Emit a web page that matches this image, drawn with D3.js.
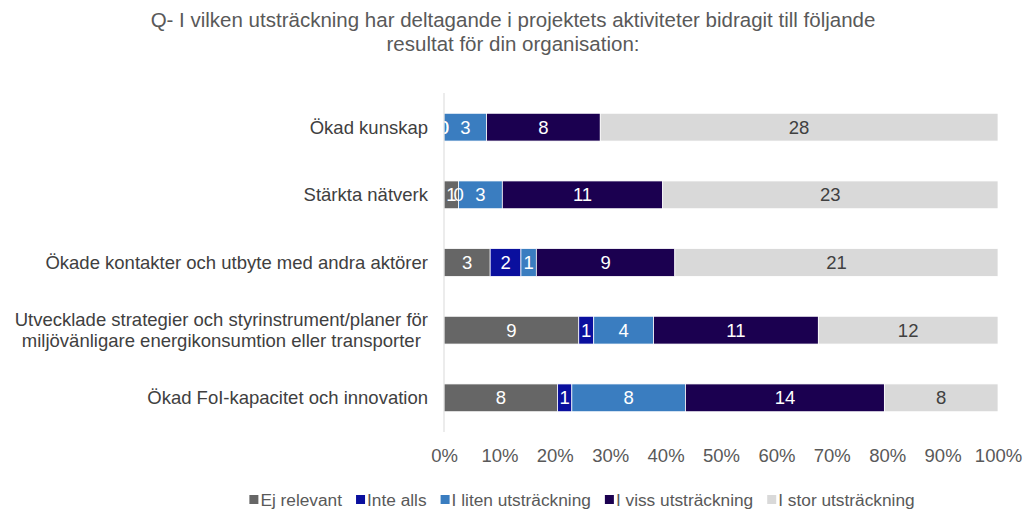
<!DOCTYPE html>
<html>
<head>
<meta charset="utf-8">
<script src="https://cdn.jsdelivr.net/npm/d3@7"></script>
<style>
  body { margin: 0; background: #fff; }
  svg { font-family: "Liberation Sans", Arial, sans-serif; }
</style>
</head>
<body>
<svg id="chart"></svg>
<script>
// data
const categories = [
    ["Ökad kunskap"],
    ["Stärkta nätverk"],
    ["Ökade kontakter och utbyte med andra aktörer"],
    ["Utvecklade strategier och styrinstrument/planer för", "miljövänligare energikonsumtion eller transporter"],
    ["Ökad FoI-kapacitet och innovation"]
];
const seriesNames = ["Ej relevant", "Inte alls", "I liten utsträckning", "I viss utsträckning", "I stor utsträckning"];
const seriesColors = ["#666666", "#0a0f9e", "#3a7dc0", "#1b0050", "#d9d9d9"];
const labelColors = ["#fff", "#fff", "#fff", "#fff", "#404040"];
const ejRelevant = [0, 1, 3, 9, 8];
const inteAlls = [0, 0, 2, 1, 1];
const litenUtstr = [3, 3, 1, 4, 8];
const vissUtstr = [8, 11, 9, 11, 14];
const storUtstr = [28, 23, 21, 12, 8];
const tickValues = [0, 0.1, 0.2, 0.3, 0.4, 0.5, 0.6, 0.7, 0.8, 0.9, 1];

const width = 1024, height = 511;
const margin = {top: 93, right: 26, bottom: 79, left: 444};
const innerW = width - margin.left - margin.right;
const innerH = height - margin.top - margin.bottom;
const fs = 18.5;

const svg = d3.select("#chart").attr("width", width).attr("height", height);

// title
svg.append("text")
    .attr("x", 513).attr("y", 27)
    .attr("text-anchor", "middle")
    .attr("fill", "#595959")
    .attr("font-size", 20.5)
    .selectAll("tspan")
    .data(["Q- I vilken utsträckning har deltagande i projektets aktiviteter bidragit till följande", "resultat för din organisation:"])
    .join("tspan")
    .attr("x", 513)
    .attr("dy", (d, i) => i === 0 ? 0 : 24)
    .text(d => d);

const rows = categories.map((c, i) => {
    const vals = [ejRelevant[i], inteAlls[i], litenUtstr[i], vissUtstr[i], storUtstr[i]];
    const total = d3.sum(vals);
    let acc = 0;
    const segs = vals.map((v, k) => {
        const s = {row: i, k: k, value: v, x0: acc / total, x1: (acc + v) / total};
        acc += v;
        return s;
    });
    return {idx: i, label: c, segs: segs};
});

const xscale = d3.scaleLinear().domain([0, 1]).range([0, innerW]);
const yscale = d3.scaleBand().domain(d3.range(categories.length)).range([0, innerH]).paddingInner(0.59).paddingOuter(0.3);

const chart = svg.append("g").attr("transform", `translate(${margin.left}, ${margin.top})`);

svg.append("defs").append("clipPath").attr("id", "plotclip")
    .append("rect").attr("x", 0).attr("y", -10).attr("width", innerW + 10).attr("height", innerH + 20);

const bars = chart.append("g");
bars.selectAll("g")
    .data(rows)
    .join("g")
    .selectAll("rect")
    .data(d => d.segs.filter(s => s.value > 0))
    .join("rect")
    .attr("x", d => xscale(d.x0))
    .attr("y", d => yscale(d.row))
    .attr("width", d => xscale(d.x1) - xscale(d.x0))
    .attr("height", yscale.bandwidth())
    .attr("fill", d => seriesColors[d.k])
    .attr("stroke", "#fff")
    .attr("stroke-width", 0.75);

// value labels (zero-width segments too, like the original)
chart.append("g")
    .attr("clip-path", "url(#plotclip)")
    .selectAll("text")
    .data(rows.flatMap(r => r.segs))
    .join("text")
    .attr("x", d => xscale((d.x0 + d.x1) / 2))
    .attr("y", d => yscale(d.row) + yscale.bandwidth() / 2)
    .attr("dy", "0.36em")
    .attr("text-anchor", "middle")
    .attr("font-size", fs)
    .attr("fill", d => labelColors[d.k])
    .text(d => d.value);

// y axis line
chart.append("line")
    .attr("x1", 0).attr("x2", 0)
    .attr("y1", 0).attr("y2", innerH)
    .attr("stroke", "#d9d9d9")
    .attr("stroke-width", 1);

// category labels
const catG = chart.append("g");
rows.forEach(r => {
    const t = catG.append("text")
        .attr("font-size", fs)
        .attr("fill", "#404040")
        .attr("text-anchor", "middle");
    const n = r.label.length;
    t.selectAll("tspan").data(r.label).join("tspan")
        .text(d => d);
    const w = d3.max(t.selectAll("tspan").nodes(), nd => nd.getComputedTextLength());
    const cx = -16 - w / 2;
    const cy = yscale(r.idx) + yscale.bandwidth() / 2;
    t.selectAll("tspan")
        .attr("x", cx)
        .attr("y", (d, i) => cy + (i - (n - 1) / 2) * 21)
        .attr("dy", "0.36em");
});

// x axis
const xaxis = d3.axisBottom(xscale).tickValues(tickValues).tickFormat(d3.format(".0%")).tickSize(0).tickPadding(0);
const xg = chart.append("g")
    .attr("transform", `translate(0, ${innerH + 17})`)
    .call(xaxis);
xg.select(".domain").remove();
xg.selectAll("text").attr("font-size", fs).attr("fill", "#595959").attr("font-family", "Liberation Sans, Arial, sans-serif");

// legend
const legend = svg.append("g").attr("transform", "translate(0, 500)");
const items = [];
const gap = 14;
let lx = 0;
seriesNames.forEach((name, k) => {
    const g = legend.append("g");
    g.append("rect").attr("x", 0).attr("y", -5).attr("width", 9).attr("height", 9).attr("fill", seriesColors[k]);
    const t = g.append("text").attr("x", 11).attr("y", 0).attr("dy", "0.36em")
        .attr("font-size", 17.3).attr("fill", "#595959").text(name);
    items.push({g: g, x: lx});
    lx += 11 + t.node().getComputedTextLength() + gap;
});
const legendW = lx - gap;
const lx0 = 582 - legendW / 2;
items.forEach(it => it.g.attr("transform", `translate(${lx0 + it.x}, 0)`));
</script>
</body>
</html>
